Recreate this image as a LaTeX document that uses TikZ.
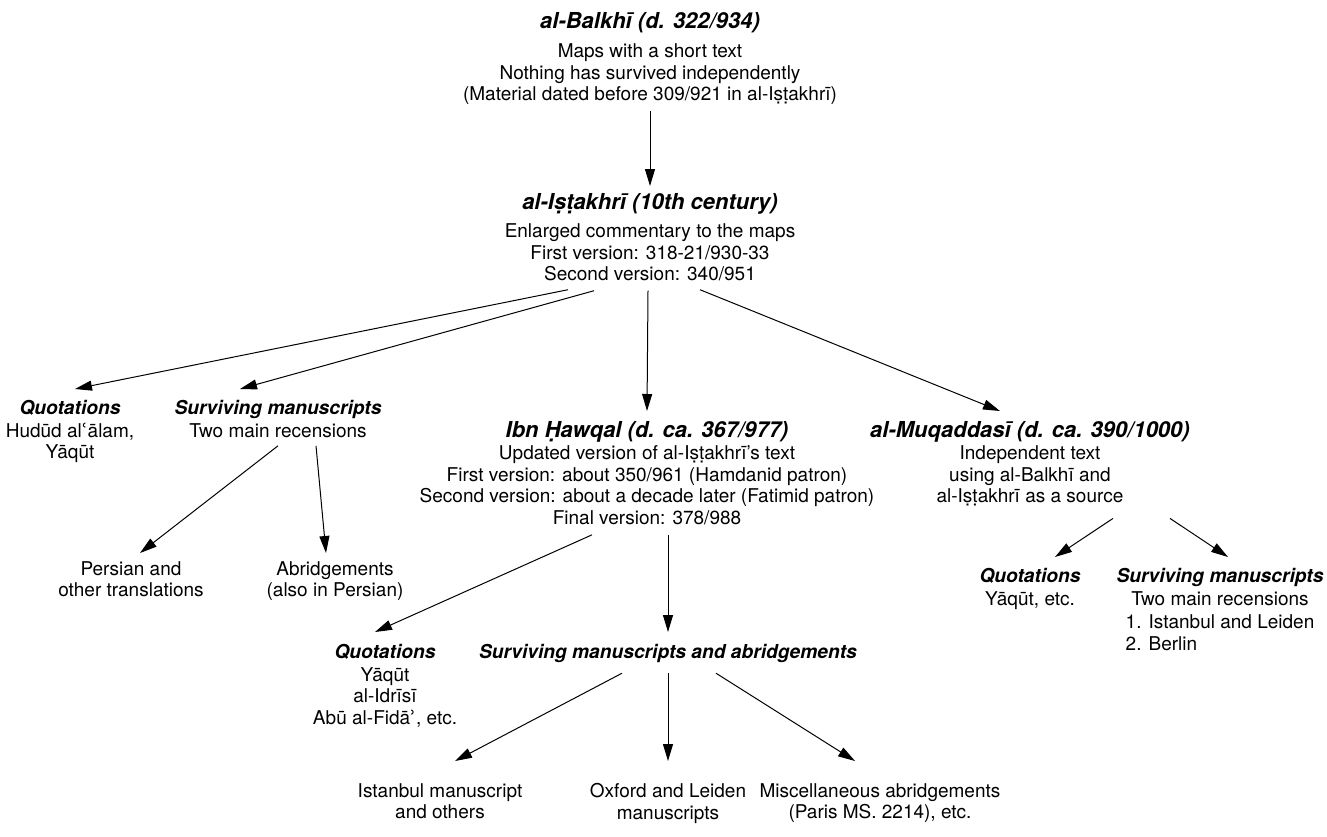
\documentclass[tikz,border=0pt]{standalone}
\usepackage{fontspec}
\setmainfont{TeX Gyre Heros}
\newfontfamily\dvfont{DejaVu Sans}
\usetikzlibrary{arrows.meta,positioning}

\tikzset{
  blk/.style={align=center, inner sep=0pt, anchor=north,
    font=\fontsize{9.5}{10.75}\selectfont},
  arr/.style={-{Triangle[length=8.5pt,width=5pt]}, line width=0.5pt},
}
\newcommand{\hd}[1]{{\fontsize{11}{12}\selectfont\bfseries\itshape #1}}
\newcommand{\sh}[1]{{\fontsize{9.6}{11}\selectfont\bfseries\itshape #1}}

\begin{document}
\begin{tikzpicture}[x=0.5pt,y=-0.5pt]
\useasboundingbox (0,0) rectangle (1327,836);
% top of the tree
\node[blk] (bal) at (650,12) {\hd{al-Balkhī (d. 322/934)}\\[4pt]Maps with a short text\\Nothing has survived independently\\(Material dated before 309/921 in al-Iṣṭakhrī)};
\node[blk] (ist) at (650,193) {\hd{al-Iṣṭakhrī (10th century)}\\[3.5pt]Enlarged commentary to the maps\\First version: 318-21/930-33\\Second version: 340/951};
% second row
\node[blk] (q1) at (70,400) {\sh{Quotations}\\[0.5pt]Hudūd al{\dvfont ʿ}ālam,\\Yāqūt};
\node[blk] (s1) at (278,400) {\sh{Surviving manuscripts}\\[0.5pt]Two main recensions};
\node[blk] (ibn) at (647,421) {\hd{Ibn Ḥawqal (d. ca. 367/977)}\\[0.3pt]Updated version of al-Iṣṭakhrī's text\\First version: about 350/961 (Hamdanid patron)\\Second version: about a decade later (Fatimid patron)\\Final version: 378/988};
\node[blk] (muq) at (1030,421) {\hd{al-Muqaddasī (d. ca. 390/1000)}\\[0.3pt]Independent text\\using al-Balkhī and\\al-Iṣṭakhrī as a source};
% third row
\node[blk] (per) at (131,561) {Persian and\\other translations};
\node[blk] (abr) at (335,561) {Abridgements\\(also in Persian)};
\node[blk] (q2) at (385,644) {\sh{Quotations}\\[0.5pt]Yāqūt\\al-Idrīsī\\Abū al-Fidā{\dvfont ʾ}, etc.};
\node[blk] (s2) at (668,644) {\sh{Surviving manuscripts and abridgements}};
\node[blk] (q3) at (1030,568) {\sh{Quotations}\\[0.5pt]Yāqūt, etc.};
\node[blk] (s3) at (1220,568) {\sh{Surviving manuscripts}\\[0.5pt]Two main recensions\\[1pt]\begin{tabular}[t]{@{}l@{}}1. Istanbul and Leiden\\2. Berlin\end{tabular}};
% bottom row
\node[blk] (ibm) at (440,783) {Istanbul manuscript\\and others};
\node[blk] (oxf) at (668,783) {Oxford and Leiden\\manuscripts};
\node[blk] (misc) at (880,783) {Miscellaneous abridgements\\(Paris MS. 2214), etc.};

\draw[arr] ([shift={(0,6)}]bal.south) -- ([shift={(0,-7)}]ist.north);
\draw[arr] ([shift={(-82,8)}]ist.south) -- ([shift={(5,-11)}]q1.north);
\draw[arr] ([shift={(-56,9)}]ist.south) -- ([shift={(-38,-11)}]s1.north);
\draw[arr] ([shift={(-2,9)}]ist.south) -- ([shift={(0,-10)}]ibn.north);
\draw[arr] ([shift={(50,8)}]ist.south) -- ([shift={(-30,-10)}]muq.north);
\draw[arr] ([shift={(0,8)}]s1.south) -- ([shift={(9,-8)}]per.north);
\draw[arr] ([shift={(38,8)}]s1.south) -- ([shift={(-9,-8)}]abr.north);
\draw[arr] ([shift={(-55,10)}]ibn.south) -- ([shift={(-10,-12)}]q2.north);
\draw[arr] ([shift={(21,10)}]ibn.south) -- ([shift={(0,-12)}]s2.north);
\draw[arr] ([shift={(83,12)}]muq.south) -- ([shift={(25,-11)}]q3.north);
\draw[arr] ([shift={(140,12)}]muq.south) -- ([shift={(8,-11)}]s3.north);
\draw[arr] ([shift={(-46,10)}]s2.south) -- ([shift={(15,-22)}]ibm.north);
\draw[arr] ([shift={(0,10)}]s2.south) -- ([shift={(0,-22)}]oxf.north);
\draw[arr] ([shift={(48,10)}]s2.south) -- ([shift={(-25,-22)}]misc.north);
\end{tikzpicture}
\end{document}
